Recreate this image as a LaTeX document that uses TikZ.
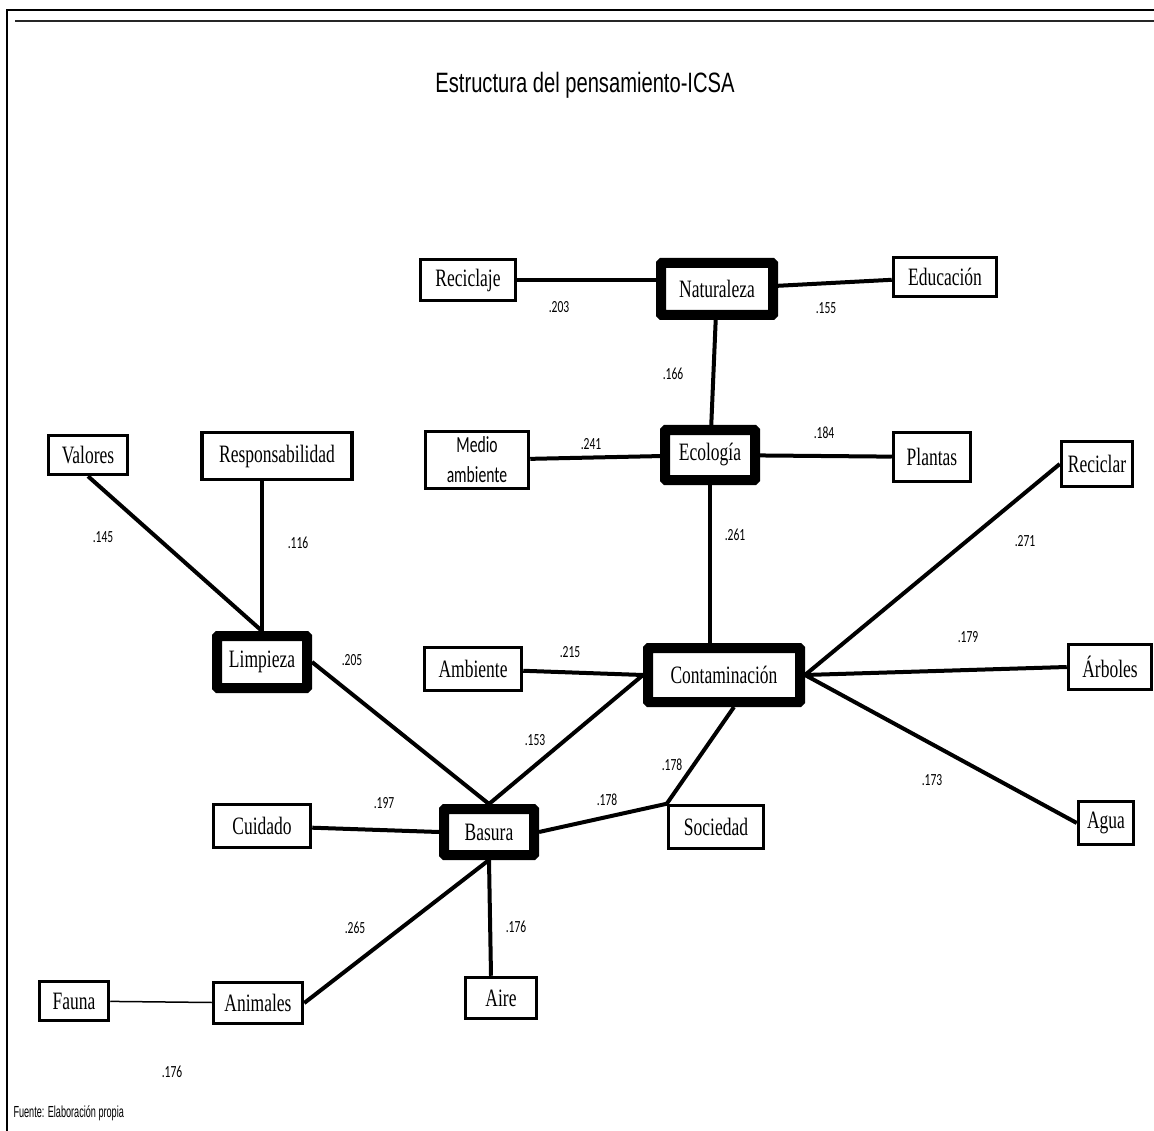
\documentclass[tikz,border=0pt]{standalone}
\usepackage{fontspec}
\setmainfont{Liberation Serif}[FakeStretch=0.7]
\newfontfamily\numfont{Carlito}[FakeStretch=0.68]
\newfontfamily\headfont{Liberation Sans}[FakeStretch=0.72]
\newfontfamily\notefont{Liberation Sans}[FakeStretch=0.57]
\usepackage{tikz}
\usetikzlibrary{calc}

\tikzset{
        concept/.style={draw, line width=3.5pt, fill=white, inner sep=0pt, font=\fontsize{25}{28}\selectfont},
        core/.style={concept, line width=10pt, rounded corners=1pt},
        link/.style={line width=4pt},
        weight/.style={inner sep=0pt, font=\numfont\fontsize{17}{19}\selectfont}
}

\begin{document}
\begin{tikzpicture}[x=1pt, y=-1pt]

        \useasboundingbox (0,0) rectangle (1154,1131);
        \draw[line width=2pt] (7,1131) -- (7,10) -- (1154,10);
        \draw[line width=2.5pt, black!85] (15,21) -- (1154,21);

        \node[font=\headfont\fontsize{28}{32}\selectfont] (title) at (585,85) {Estructura del pensamiento-ICSA};
        \node[anchor=base west, font=\notefont\fontsize{16}{18}\selectfont] (fuente) at (10,1117) {Fuente: Elaboración propia};

        \node[concept, minimum width=95, minimum height=41] (reciclaje) at (468,280) {Reciclaje};
        \node[core, minimum width=112, minimum height=52] (naturaleza) at (717,289) {Naturaleza};
        \node[concept, minimum width=103, minimum height=39] (educacion) at (945,277) {Educación};

        \node[concept, minimum width=103, minimum height=57, align=center, font=\numfont\fontsize{23}{30}\selectfont] (medio) at (477,460) {Medio\\ambiente};
        \node[core, minimum width=90, minimum height=50] (ecologia) at (710,455) {Ecología};
        \node[concept, minimum width=77, minimum height=49] (plantas) at (932,457) {Plantas};

        \node[concept, minimum width=79, minimum height=39] (valores) at (88,455) {Valores};
        \node[concept, minimum width=150, minimum height=47] (resp) at (277,456) {Responsabilidad};
        \node[concept, minimum width=71, minimum height=45] (reciclar) at (1097,464) {Reciclar};

        \node[core, minimum width=90, minimum height=52] (limpieza) at (262,662) {Limpieza};
        \node[concept, minimum width=97, minimum height=43] (ambiente) at (473,669) {Ambiente};
        \node[core, minimum width=152, minimum height=54] (contam) at (724,675) {Contaminación};
        \node[concept, minimum width=83, minimum height=45] (arboles) at (1110,667) {Árboles};

        \node[concept, minimum width=97, minimum height=43] (cuidado) at (262,826) {Cuidado};
        \node[core, minimum width=90, minimum height=46] (basura) at (489,832) {Basura};
        \node[concept, minimum width=95, minimum height=43] (sociedad) at (716,827) {Sociedad};
        \node[concept, minimum width=55, minimum height=43] (agua) at (1106,823) {Agua};

        \node[concept, minimum width=69, minimum height=39] (fauna) at (74,1001) {Fauna};
        \node[concept, minimum width=89, minimum height=41] (animales) at (258,1003) {Animales};
        \node[concept, minimum width=71, minimum height=41] (aire) at (501,998) {Aire};

        \draw[link] (reciclaje) -- (reciclaje -| naturaleza.west);
        \draw[link] (naturaleza) -- (educacion);
        \draw[link] (naturaleza) -- (ecologia);
        \draw[link] (medio) -- (ecologia);
        \draw[link] (ecologia) -- (plantas);
        \draw[link] (ecologia.south) -- (ecologia.south |- contam.north);

        \draw[link] (valores.south) -- (limpieza.north);
        \draw[link] (limpieza.north) -- (limpieza.north |- resp.south);
        \draw[link] (limpieza.east) -- (basura.north);

        \draw[link] (ambiente) -- (contam.west);
        \draw[link] (contam.west) -- (basura.north);
        \draw[link] (contam.east) -- (reciclar.west);
        \draw[link] (contam.east) -- (arboles.west);
        \draw[link] (contam.east) -- (agua.west);
        \draw[link] ([xshift=10pt]contam.south) -- (sociedad.north west);

        \draw[link] (cuidado) -- (basura.west);
        \draw[link] (basura.east) -- (sociedad.north west);
        \draw[link] (basura.south) -- ([xshift=-10pt]aire.north);
        \draw[link] (basura.south) -- (animales.east);
        \draw[line width=1.5pt] (fauna) -- (animales);

        \node[weight] (w203) at (559,307) {.203};
        \node[weight] (w155) at (826,308) {.155};
        \node[weight] (w166) at (673,374) {.166};
        \node[weight] (w241) at (591,444) {.241};
        \node[weight] (w184) at (824,433) {.184};

        \node[weight] (w145) at (103,537) {.145};
        \node[weight] (w116) at (298,543) {.116};
        \node[weight] (w261) at (735,535) {.261};
        \node[weight] (w271) at (1025,541) {.271};

        \node[weight] (w205) at (352,660) {.205};
        \node[weight] (w215) at (570,652) {.215};
        \node[weight] (w179) at (968,637) {.179};
        \node[weight] (w153) at (535,740) {.153};
        \node[weight] (w178a) at (672,765) {.178};
        \node[weight] (w178b) at (607,800) {.178};
        \node[weight] (w173) at (932,780) {.173};
        \node[weight] (w197) at (384,803) {.197};

        \node[weight] (w176a) at (516,927) {.176};
        \node[weight] (w265) at (355,928) {.265};
        \node[weight] (w176b) at (172,1072) {.176};

\end{tikzpicture}
\end{document}
